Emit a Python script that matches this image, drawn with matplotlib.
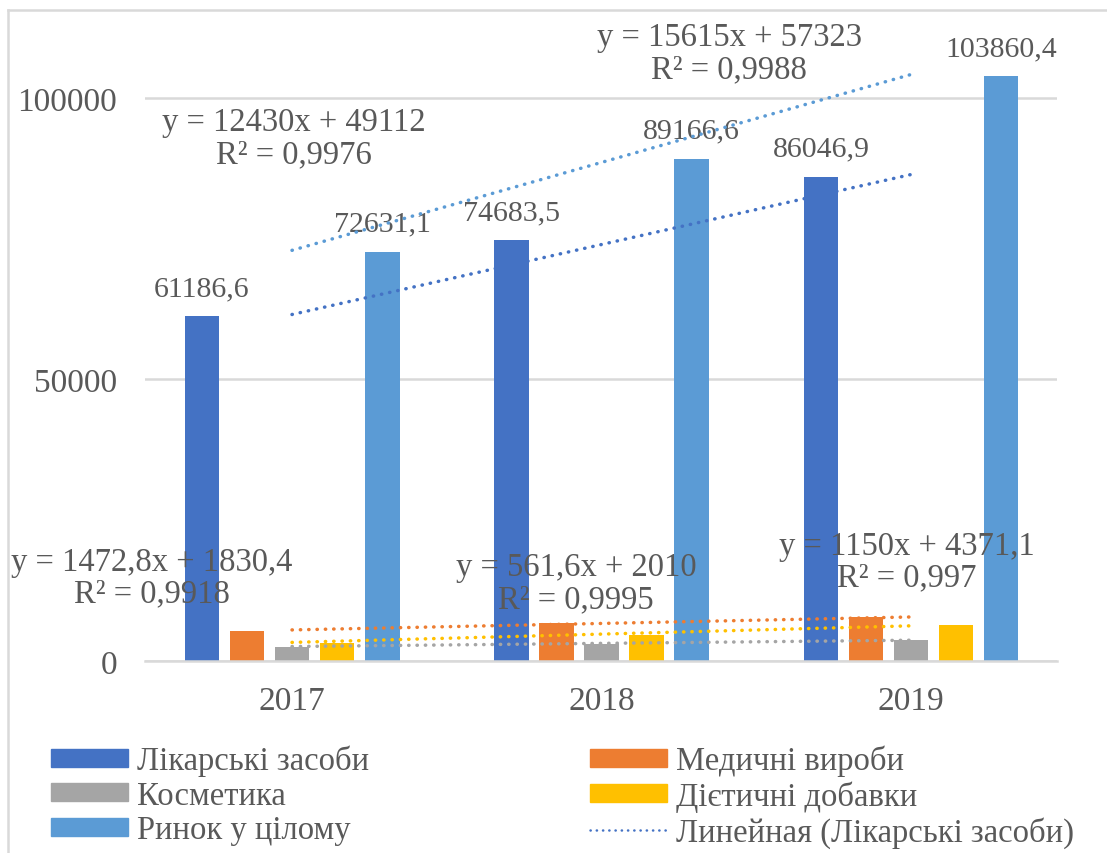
import matplotlib
matplotlib.use("Agg")
import matplotlib.pyplot as plt
from matplotlib.lines import Line2D
from matplotlib.patches import Patch
import numpy as np

plt.rcParams['font.family'] = ['Liberation Serif', 'DejaVu Serif']

# --- data ---
years = ["2017", "2018", "2019"]
series_names = ["Лікарські засоби", "Медичні вироби", "Косметика",
                "Дієтичні добавки", "Ринок у цілому"]
medicines = [61186.6, 74683.5, 86046.9]
med_devices = [5380, 6690, 7815]
cosmetics = [2540, 2960, 3670]
supplements = [3200, 4680, 6340]
market_total = [72631.1, 89166.6, 103860.4]

# linear trends: slope, intercept, R²
trend_medicines = (12430, 49112, "0,9976")
trend_market = (15615, 57323, "0,9988")
trend_devices = (1150, 4371.1, "0,997")
trend_cosmetics = (561.6, 2010, "0,9995")
trend_supplements = (1472.8, 1830.4, "0,9918")

colors = ["#4472C4", "#ED7D31", "#A5A5A5", "#FFC000", "#5B9BD5"]
text_color = "#595959"
grid_color = "#D9D9D9"

W, H = 1107, 854
fig = plt.figure(figsize=(W / 100, H / 100), dpi=100)

# chart frame (left and top edges)
fig.add_artist(Line2D([8 / W, 8 / W], [0, 1 - 11 / H], color=grid_color, lw=1.8))
fig.add_artist(Line2D([8 / W, 1], [1 - 11 / H, 1 - 11 / H], color=grid_color, lw=1.8))

ax = fig.add_axes([145 / W, (H - 662) / H, (1057 - 145) / W, (662 - 14.5) / H])
ax.set_ylim(0, 115000)
ax.set_xlim(-0.475, 2.4717)

x = np.arange(len(years))
step = 0.1454
width = 0.113
all_series = [medicines, med_devices, cosmetics, supplements, market_total]
for i, (vals, col) in enumerate(zip(all_series, colors)):
    ax.bar(x + (i - 2) * step, vals, width=width, color=col, zorder=2)

label_font = dict(fontsize=21.5, color=text_color)
for idx in (0, 4):
    for xi, v in zip(x + (idx - 2) * step, all_series[idx]):
        ax.annotate(f"{v:.1f}".replace(".", ","), (xi, v), xytext=(0, 11),
                    textcoords="offset points", ha="center", va="bottom", **label_font)

# dotted trendlines
def trend(coefs, col):
    a, b, _ = coefs
    xs = np.array([x[0], x[-1] + 0.005])
    yv = a * (xs + 1) + b
    ax.plot(xs, yv, color=col, lw=2.5, linestyle=(0, (0.1, 2.3)),
            dash_capstyle="round", zorder=3)

trend(trend_medicines, colors[0])
trend(trend_market, colors[4])
trend(trend_devices, colors[1])
trend(trend_cosmetics, colors[2])
trend(trend_supplements, colors[3])

def fmt(v):
    s = f"{v:g}"
    return s.replace(".", ",")

eq_font = dict(fontsize=23.5, color=text_color, ha="center", va="center",
               multialignment="center", linespacing=1.05, zorder=4)
def equation(coefs, xd, yd):
    a, b, r2 = coefs
    ax.text(xd, yd, f"y = {fmt(a)}x + {fmt(b)}\nR² = {r2}", **eq_font)

equation(trend_medicines, 0.006, 92900)
equation(trend_market, 1.412, 108000)
equation(trend_supplements, -0.452, 14800)
equation(trend_cosmetics, 0.918, 13900)
equation(trend_devices, 1.987, 17640)

ax.set_xticks(x)
ax.set_xticklabels(years)
ax.set_yticks([0, 50000, 100000])
ax.tick_params(axis="both", length=0, labelsize=24, labelcolor=text_color)
ax.tick_params(axis="y", pad=20)
ax.tick_params(axis="x", pad=18)
ax.yaxis.grid(True, color=grid_color, lw=1.8, zorder=0)
ax.set_axisbelow(True)
for s in ("top", "right", "left"):
    ax.spines[s].set_visible(False)
ax.spines["bottom"].set_color(grid_color)
ax.spines["bottom"].set_linewidth(1.8)

handles = [Patch(color=colors[0]), Patch(color=colors[2]), Patch(color=colors[4]),
           Patch(color=colors[1]), Patch(color=colors[3]),
           Line2D([], [], color=colors[0], lw=1.8, linestyle=(0, (0.1, 2.4)),
                  dash_capstyle="round")]
labels = [series_names[0], series_names[2], series_names[4],
          series_names[1], series_names[3], "Линейная (Лікарські засоби)"]
fig.legend(handles, labels, loc="upper left", bbox_to_anchor=(51 / W, 1 - 746 / H),
           ncol=2, frameon=False, fontsize=23.5, labelcolor=text_color,
           borderpad=0, borderaxespad=0,
           handlelength=2.36, handleheight=0.46, handletextpad=0.28,
           labelspacing=0.12, columnspacing=6.75)

fig.savefig("out.png", dpi=100)
